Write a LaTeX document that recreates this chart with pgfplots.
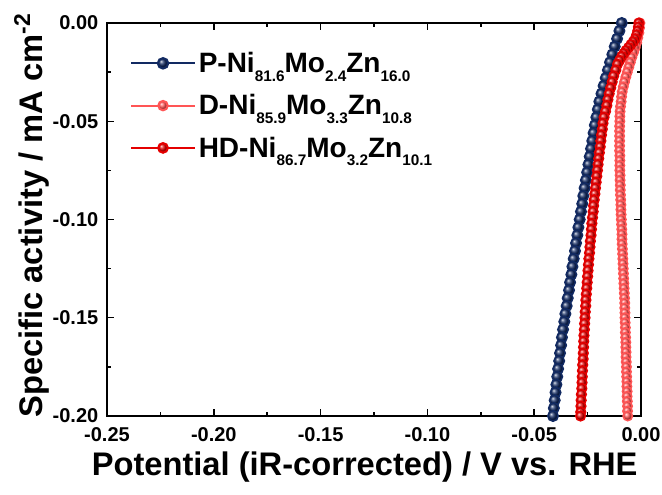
\documentclass[border=0pt]{standalone}
\usepackage{fontspec}
\setmainfont{Liberation Sans}
\usepackage{pgfplots}
\pgfplotsset{compat=1.18}

\definecolor{navyP}{RGB}{18,42,98}
\definecolor{pinkD}{RGB}{255,85,85}
\definecolor{redHD}{RGB}{228,0,0}
\newcommand\sub[1]{\raisebox{-6.5pt}{\fontsize{11.5}{12}\selectfont #1}}

\begin{document}
\begin{tikzpicture}
\begin{axis}[
  scale only axis,width=400.5pt,height=294.75pt,
  xmin=-0.25,xmax=0,ymin=-0.2,ymax=0,
  axis line style={line width=1.4pt},
  tick style={line width=1.1pt,black},
  tick align=inside,
  major tick length=5.5pt,minor tick length=3pt,
  xtick={-0.25,-0.2,-0.15,-0.1,-0.05,0},
  xticklabels={-0.25,-0.20,-0.15,-0.10,-0.05,0.00},
  ytick={-0.2,-0.15,-0.1,-0.05,0},
  yticklabels={-0.20,-0.15,-0.10,-0.05,0.00},
  minor x tick num=1,minor y tick num=1,
  tick label style={font=\fontsize{15}{17}\selectfont\bfseries},
  xticklabel style={yshift=-5pt},
  yticklabel style={xshift=-3pt},
  xlabel={Potential (iR-corrected) / V vs. RHE},
  ylabel={Specific activity / mA cm\textsuperscript{-2}},
  label style={font=\fontsize{24.5}{27}\selectfont\bfseries},
  xlabel style={yshift=-1pt,xshift=-7pt},
  ylabel style={yshift=-4pt,xshift=3pt},
  legend style={at={(0.035,0.94)},anchor=north west,draw=none,fill=none,
    font=\fontsize{21}{24}\selectfont\bfseries,row sep=11pt,
    nodes={inner sep=2pt}},
  legend cell align=left,
  legend image code/.code={\draw[mark repeat=2,mark phase=2,#1,line width=1.6pt]
    plot coordinates {(0pt,0pt) (24pt,0pt) (48pt,0pt)};},
]
\addplot[navyP,line width=1.2pt,mark=ball,mark size=3.9pt,mark options={ball color=navyP}] coordinates {
(-0.0090,0) (-0.0101,-0.004) (-0.0112,-0.008) (-0.0123,-0.012) (-0.0134,-0.016)
(-0.0145,-0.020) (-0.0155,-0.024) (-0.0165,-0.028) (-0.0175,-0.032) (-0.0185,-0.036)
(-0.0195,-0.040) (-0.0202,-0.044) (-0.0209,-0.048) (-0.0216,-0.052) (-0.0222,-0.056)
(-0.0228,-0.060) (-0.0234,-0.064) (-0.0240,-0.068) (-0.0246,-0.072) (-0.0252,-0.076)
(-0.0258,-0.080) (-0.0264,-0.084) (-0.0270,-0.088) (-0.0275,-0.092) (-0.0281,-0.096)
(-0.0287,-0.100) (-0.0293,-0.104) (-0.0298,-0.108) (-0.0304,-0.112) (-0.0309,-0.116)
(-0.0315,-0.120) (-0.0321,-0.124) (-0.0326,-0.128) (-0.0332,-0.132) (-0.0337,-0.136)
(-0.0343,-0.140) (-0.0348,-0.144) (-0.0354,-0.148) (-0.0359,-0.152) (-0.0365,-0.156)
(-0.0370,-0.160) (-0.0374,-0.164) (-0.0379,-0.168) (-0.0383,-0.172) (-0.0388,-0.176)
(-0.0392,-0.180) (-0.0396,-0.184) (-0.0400,-0.188) (-0.0404,-0.192) (-0.0408,-0.196)
(-0.0412,-0.200)
};
\addlegendentry{P-Ni\sub{81.6}Mo\sub{2.4}Zn\sub{16.0}}
\addplot[pinkD,line width=1.2pt,mark=ball,mark size=3.5pt,mark options={ball color=pinkD}] coordinates {
(-0.0005,0) (-0.0007,-0.0025) (-0.0010,-0.005) (-0.0015,-0.0075) (-0.0020,-0.010)
(-0.0027,-0.0125) (-0.0035,-0.015) (-0.0043,-0.0175) (-0.0050,-0.020) (-0.0057,-0.0225)
(-0.0064,-0.025) (-0.0071,-0.0275) (-0.0077,-0.030) (-0.0083,-0.0325) (-0.0088,-0.035)
(-0.0091,-0.0375) (-0.0093,-0.040) (-0.0096,-0.0425) (-0.0098,-0.045) (-0.0099,-0.0475)
(-0.0099,-0.050) (-0.0100,-0.0525) (-0.0100,-0.055) (-0.0100,-0.0575) (-0.0100,-0.060)
(-0.0100,-0.0625) (-0.0100,-0.065) (-0.0099,-0.0675) (-0.0099,-0.070) (-0.0099,-0.0725)
(-0.0099,-0.075) (-0.0098,-0.0775) (-0.0098,-0.080) (-0.0097,-0.0825) (-0.0097,-0.085)
(-0.0096,-0.0875) (-0.0095,-0.090) (-0.0094,-0.0925) (-0.0094,-0.095) (-0.0093,-0.0975)
(-0.0092,-0.100) (-0.0091,-0.1025) (-0.0090,-0.105) (-0.0089,-0.1075) (-0.0089,-0.110)
(-0.0088,-0.1125) (-0.0087,-0.115) (-0.0086,-0.1175) (-0.0085,-0.120) (-0.0084,-0.1225)
(-0.0083,-0.125) (-0.0082,-0.1275) (-0.0081,-0.130) (-0.0080,-0.1325) (-0.0079,-0.135)
(-0.0078,-0.1375) (-0.0077,-0.140) (-0.0076,-0.1425) (-0.0076,-0.145) (-0.0075,-0.1475)
(-0.0075,-0.150) (-0.0074,-0.1525) (-0.0073,-0.155) (-0.0073,-0.1575) (-0.0072,-0.160)
(-0.0071,-0.1625) (-0.0071,-0.165) (-0.0070,-0.1675) (-0.0070,-0.170) (-0.0069,-0.1725)
(-0.0068,-0.175) (-0.0068,-0.1775) (-0.0067,-0.180) (-0.0066,-0.1825) (-0.0066,-0.185)
(-0.0065,-0.1875) (-0.0065,-0.190) (-0.0064,-0.1925) (-0.0063,-0.195) (-0.0063,-0.1975)
(-0.0062,-0.200)
};
\addlegendentry{D-Ni\sub{85.9}Mo\sub{3.3}Zn\sub{10.8}}
\addplot[redHD,line width=1.2pt,mark=ball,mark size=3.6pt,mark options={ball color=redHD}] coordinates {
(-0.0010,0) (-0.0012,-0.002) (-0.0015,-0.004) (-0.0020,-0.006) (-0.0027,-0.008)
(-0.0036,-0.0095) (-0.0047,-0.011) (-0.0058,-0.0125) (-0.0070,-0.014) (-0.0080,-0.0155)
(-0.0090,-0.017) (-0.0100,-0.019) (-0.0110,-0.021) (-0.0118,-0.024) (-0.0128,-0.027)
(-0.0135,-0.030) (-0.0142,-0.033) (-0.0149,-0.036) (-0.0155,-0.039) (-0.0160,-0.042)
(-0.0166,-0.045) (-0.0173,-0.048) (-0.0178,-0.051) (-0.0181,-0.054) (-0.0185,-0.057)
(-0.0188,-0.060) (-0.0191,-0.063) (-0.0195,-0.066) (-0.0198,-0.069) (-0.0201,-0.072)
(-0.0204,-0.075) (-0.0207,-0.078) (-0.0210,-0.081) (-0.0213,-0.084) (-0.0216,-0.087)
(-0.0219,-0.090) (-0.0222,-0.093) (-0.0224,-0.096) (-0.0227,-0.099) (-0.0230,-0.102)
(-0.0232,-0.105) (-0.0234,-0.108) (-0.0237,-0.111) (-0.0239,-0.114) (-0.0241,-0.117)
(-0.0244,-0.120) (-0.0246,-0.123) (-0.0248,-0.126) (-0.0250,-0.129) (-0.0252,-0.132)
(-0.0254,-0.135) (-0.0256,-0.138) (-0.0258,-0.141) (-0.0259,-0.144) (-0.0261,-0.147)
(-0.0262,-0.150) (-0.0264,-0.153) (-0.0265,-0.156) (-0.0267,-0.159) (-0.0268,-0.162)
(-0.0269,-0.165) (-0.0270,-0.168) (-0.0271,-0.171) (-0.0273,-0.174) (-0.0274,-0.177)
(-0.0275,-0.180) (-0.0276,-0.183) (-0.0277,-0.186) (-0.0279,-0.189) (-0.0280,-0.192)
(-0.0281,-0.195) (-0.0282,-0.198) (-0.0283,-0.200)
};
\addlegendentry{HD-Ni\sub{86.7}Mo\sub{3.2}Zn\sub{10.1}}
\end{axis}
\pgfresetboundingbox
\path[use as bounding box] (-80.25pt,-58.5pt) rectangle (416.25pt,312pt);
\end{tikzpicture}
\end{document}
